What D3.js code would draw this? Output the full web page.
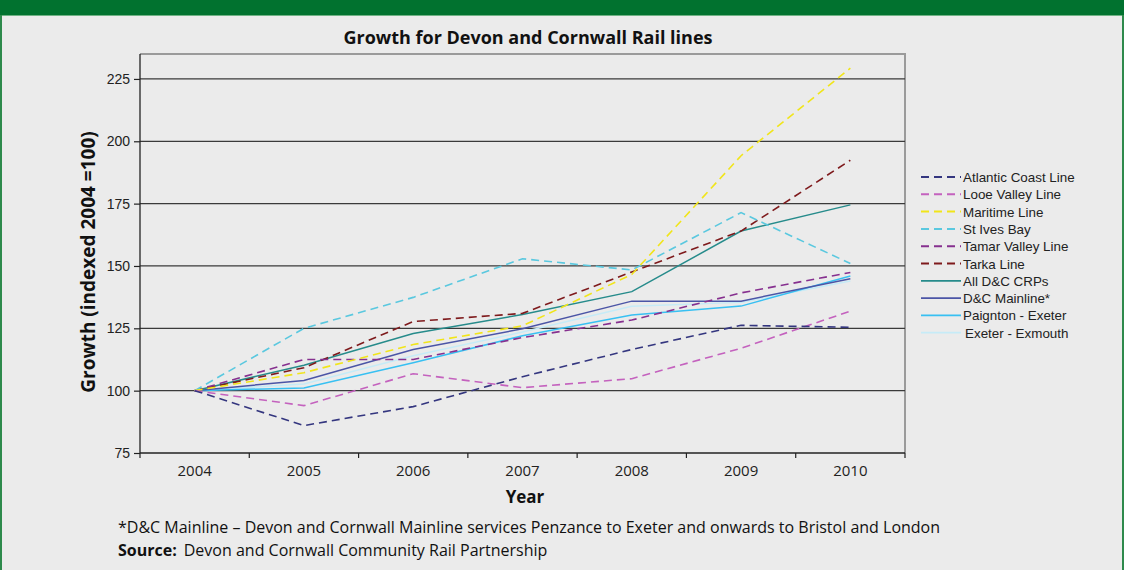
<!DOCTYPE html>
<html>
<head>
<meta charset="utf-8">
<script src="https://cdn.jsdelivr.net/npm/d3@7"></script>
<style>
  html, body { margin: 0; padding: 0; background: #ebebeb; }
  svg { display: block; }
</style>
</head>
<body>
<svg id="chart" width="1124" height="570"></svg>
<script>
// Passenger growth index per line, 2004 = 100
const years = ["2004", "2005", "2006", "2007", "2008", "2009", "2010"];
const yTicks = [75, 100, 125, 150, 175, 200, 225];

const atlanticCoast = [100, 86, 93.6, 105.6, 116.5, 126.2, 125.4];
const looeValley    = [100, 94, 106.8, 101.2, 104.8, 117, 131.9];
const maritime      = [100, 107.2, 118.5, 126, 146.6, 194.2, 229.3];
const stIvesBay     = [100, 125, 137.4, 152.9, 148.4, 171.4, 151];
const tamarValley   = [100, 112.5, 112.5, 121.3, 128.3, 139.2, 147.4];
const tarka         = [100, 109.2, 127.7, 131, 147.6, 164, 192.4];
const allCRPs       = [100, 110.2, 122.9, 130.5, 139.7, 164, 174.5];
const dcMainline    = [100, 104.1, 116.5, 124.8, 135.9, 135.9, 144.9];
const paignton      = [100, 101.1, 111.2, 122, 130.3, 133.9, 146];
const exmouth       = [100, 102.7, 114, 123.5, 133.8, 135.4, 144];

const series = [
  { name: "Atlantic Coast Line", values: atlanticCoast, color: "#34367f", dashed: true },
  { name: "Looe Valley Line",    values: looeValley,    color: "#c462be", dashed: true },
  { name: "Maritime Line",       values: maritime,      color: "#f1e51a", dashed: true },
  { name: "St Ives Bay",         values: stIvesBay,     color: "#5ac8df", dashed: true },
  { name: "Tamar Valley Line",   values: tamarValley,   color: "#86308f", dashed: true },
  { name: "Tarka Line",          values: tarka,         color: "#7e1a1c", dashed: true },
  { name: "All D&C CRPs",        values: allCRPs,       color: "#268b8b", dashed: false },
  { name: "D&C Mainline*",       values: dcMainline,    color: "#4b55a6", dashed: false },
  { name: "Paignton - Exeter",   values: paignton,      color: "#38c0f2", dashed: false },
  { name: "Exeter - Exmouth",    values: exmouth,       color: "#c6ebf7", dashed: false }
];

const svg = d3.select("#chart");
const W = 1124, H = 570;

// panel frame and header band
svg.append("rect").attr("x", 0).attr("y", 0).attr("width", W).attr("height", H).attr("fill", "#ebebeb");
svg.append("rect").attr("x", 0).attr("y", 0).attr("width", W).attr("height", 15).attr("fill", "#01722f");
svg.append("line").attr("x1", 0).attr("x2", W).attr("y1", 15.5).attr("y2", 15.5)
  .attr("stroke", "#6fb284").attr("stroke-width", 1);
svg.append("line").attr("x1", 1).attr("x2", 1).attr("y1", 15).attr("y2", H)
  .attr("stroke", "#2e8a4c").attr("stroke-width", 2);
svg.append("line").attr("x1", W - 1).attr("x2", W - 1).attr("y1", 15).attr("y2", H)
  .attr("stroke", "#2e8a4c").attr("stroke-width", 2);

const plot = { left: 140, right: 905, top: 54, bottom: 453 };

const x = d3.scaleBand().domain(years).range([plot.left, plot.right]).padding(0);
const y = d3.scaleLinear().domain([75, 235]).range([plot.bottom, plot.top]);
const cx = yr => x(yr) + x.bandwidth() / 2;

// plot area border (top / right)
svg.append("path")
  .attr("d", `M${plot.left},${plot.top}H${plot.right}V${plot.bottom}`)
  .attr("fill", "none").attr("stroke", "#9a9a9a").attr("stroke-width", 2);

// horizontal gridlines
svg.append("g").selectAll("line").data(yTicks.filter(t => t > 75)).join("line")
  .attr("x1", plot.left).attr("x2", plot.right)
  .attr("y1", d => y(d)).attr("y2", d => y(d))
  .attr("stroke", "#3a3a3a").attr("stroke-width", 1.3);

// y axis
const yAxis = d3.axisLeft(y).tickValues(yTicks).tickSize(6).tickPadding(4);
const gy = svg.append("g").attr("transform", `translate(${plot.left},0)`).call(yAxis);
gy.select(".domain").attr("d", `M0,${plot.top}V${plot.bottom}`).attr("stroke", "#222").attr("stroke-width", 1.3);
gy.selectAll(".tick line").attr("stroke", "#222").attr("stroke-width", 1.2);
gy.selectAll(".tick text").attr("font-family", "Liberation Sans, Arial, sans-serif")
  .attr("font-size", 14).attr("fill", "#222");

// x axis: labels centred on categories, ticks on category boundaries
const gx = svg.append("g").attr("transform", `translate(0,${plot.bottom})`);
gx.append("line").attr("x1", plot.left).attr("x2", plot.right).attr("y1", 0).attr("y2", 0)
  .attr("stroke", "#222").attr("stroke-width", 1.4);
const bounds = years.map(d => x(d)).concat([plot.right]);
gx.selectAll("line.tk").data(bounds).join("line").attr("class", "tk")
  .attr("x1", d => d).attr("x2", d => d).attr("y1", 0).attr("y2", 5)
  .attr("stroke", "#222").attr("stroke-width", 1.2);
gx.selectAll("text").data(years).join("text")
  .attr("x", d => cx(d)).attr("y", 23).attr("text-anchor", "middle")
  .attr("font-family", "Open Sans, sans-serif").attr("font-size", 15).attr("fill", "#222")
  .text(d => d);

// series lines
const line = d3.line().x((d, i) => cx(years[i])).y(d => y(d));
svg.append("g").selectAll("path").data(series.slice().reverse()).join("path")
  .attr("d", d => line(d.values))
  .attr("fill", "none")
  .attr("stroke", d => d.color)
  .attr("stroke-width", d => d.dashed ? 1.6 : 1.5)
  .attr("stroke-dasharray", d => d.dashed ? "8,5" : null);

// titles
svg.append("text").attr("x", 528).attr("y", 44).attr("text-anchor", "middle")
  .attr("font-family", "Open Sans, sans-serif").attr("font-weight", "bold").attr("font-size", 18)
  .attr("fill", "#111").text("Growth for Devon and Cornwall Rail lines");
svg.append("text").attr("transform", "translate(95,262) rotate(-90)").attr("text-anchor", "middle")
  .attr("font-family", "Open Sans, sans-serif").attr("font-weight", "bold").attr("font-size", 19)
  .attr("fill", "#111").text("Growth (indexed 2004 =100)");
svg.append("text").attr("x", 525).attr("y", 503).attr("text-anchor", "middle")
  .attr("font-family", "Open Sans, sans-serif").attr("font-weight", "bold").attr("font-size", 17)
  .attr("fill", "#111").text("Year");

// legend
const lg = svg.append("g").attr("transform", "translate(921,177)");
const item = lg.selectAll("g").data(series).join("g")
  .attr("transform", (d, i) => `translate(0,${i * 17.3})`);
item.append("line").attr("x1", 0).attr("x2", 40).attr("y1", 0).attr("y2", 0)
  .attr("stroke", d => d.color).attr("stroke-width", d => d.dashed ? 2 : 1.8)
  .attr("stroke-dasharray", d => d.dashed ? "8,5" : null);
item.append("text").attr("x", (d, i) => i === series.length - 1 ? 44 : 42).attr("y", 5)
  .attr("font-family", "Liberation Sans, Arial, sans-serif").attr("font-size", 13.4)
  .attr("fill", "#222").text(d => d.name);

// footnotes
const foot = svg.append("g").attr("font-family", "Open Sans, sans-serif").attr("font-size", 16).attr("fill", "#111");
foot.append("text").attr("x", 118).attr("y", 533)
  .text("*D&C Mainline \u2013 Devon and Cornwall Mainline services Penzance to Exeter and onwards to Bristol and London");
const src = foot.append("text").attr("x", 118).attr("y", 556);
src.append("tspan").attr("font-weight", "bold").text("Source:");
src.append("tspan").attr("dx", 7).text("Devon and Cornwall Community Rail Partnership");
</script>
</body>
</html>
